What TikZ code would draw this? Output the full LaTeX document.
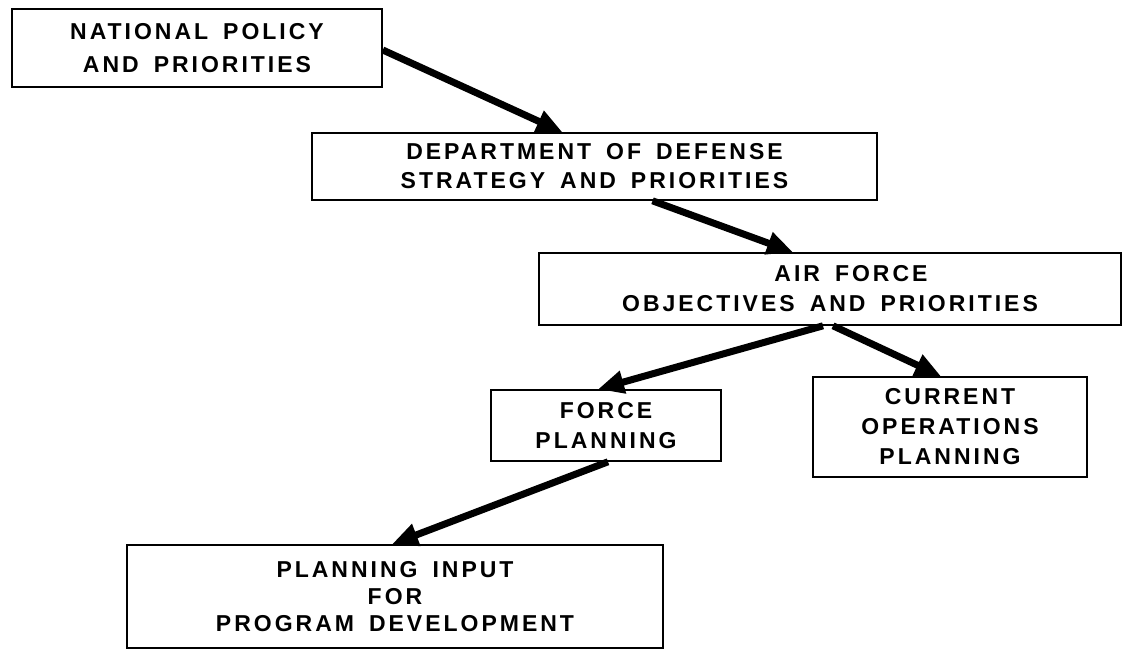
\documentclass[tikz,border=0pt]{standalone}
\usepackage{fontspec}
\newfontfamily\boxfont{Liberation Sans}[LetterSpace=13,WordSpace=1.6]
\usetikzlibrary{arrows.meta}
\begin{document}
\begin{tikzpicture}[x=1pt,y=-1pt,
  box/.style={draw, line width=1.6pt, rectangle, inner sep=0pt, align=center,
    font=\boxfont\bfseries\fontsize{23}{30}\selectfont},
  arr/.style={line width=7pt, -{Triangle[length=26pt,width=22pt]}}]
\useasboundingbox (0,0) rectangle (1123,650);
\node[box, minimum width=370pt, minimum height=78pt,
  font=\boxfont\bfseries\fontsize{23}{33}\selectfont] (b1) at (197,48)
  {NATIONAL POLICY\\AND PRIORITIES};
\node[box, minimum width=565pt, minimum height=67pt,
  font=\boxfont\bfseries\fontsize{23}{29}\selectfont] (b2) at (594.5,166.5)
  {DEPARTMENT OF DEFENSE\\STRATEGY AND PRIORITIES};
\node[box, minimum width=582pt, minimum height=72pt] (b3) at (830,289)
  {\hspace*{42pt}AIR FORCE\\OBJECTIVES AND PRIORITIES};
\node[box, minimum width=230pt, minimum height=71pt] (b4) at (606,425.5)
  {FORCE\\PLANNING};
\node[box, minimum width=274pt, minimum height=100pt] (b5) at (950,427)
  {CURRENT\\OPERATIONS\\PLANNING};
\node[box, minimum width=536pt, minimum height=103pt,
  font=\boxfont\bfseries\fontsize{23}{27}\selectfont] (b6) at (395,596.5)
  {PLANNING INPUT\\FOR\\PROGRAM DEVELOPMENT};
\draw[arr] ([yshift=-2pt]b1.east) -- ([xshift=-32pt]b2.north);
\draw[arr] ([xshift=58pt]b2.south) -- ([xshift=-37pt]b3.north);
\draw[arr] ([xshift=-7pt]b3.south) -- ([xshift=-8pt]b4.north);
\draw[arr] ([xshift=3pt]b3.south) -- ([xshift=-9pt]b5.north);
\draw[arr] ([xshift=2pt]b4.south) -- ([xshift=-3pt]b6.north);
\end{tikzpicture}
\end{document}
